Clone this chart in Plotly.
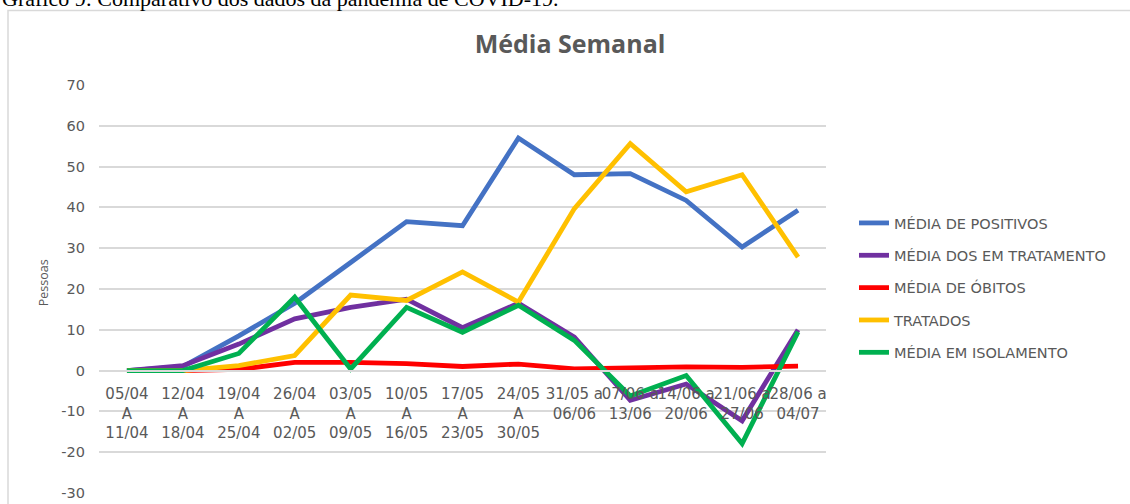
import plotly.graph_objects as go

categories = ["05/04<br>A<br>11/04", "12/04<br>A<br>18/04", "19/04<br>A<br>25/04",
              "26/04<br>A<br>02/05", "03/05<br>A<br>09/05", "10/05<br>A<br>16/05",
              "17/05<br>A<br>23/05", "24/05<br>A<br>30/05", "31/05 a<br>06/06",
              "07/06 a<br>13/06", "14/06 a<br>20/06", "21/06 a<br>27/06", "28/06 a<br>04/07"]

positivos = [0, 1, 8.5, 16.5, 26.5, 36.5, 35.5, 57, 48, 48.3, 41.7, 30.3, 39.3]
tratamento = [0, 1.2, 6.5, 12.7, 15.5, 17.5, 10.5, 16.5, 8.2, -7.3, -3.3, -12.3, 10]
obitos = [0, 0, 0.3, 2, 2, 1.7, 1, 1.6, 0.4, 0.6, 0.9, 0.8, 1.1]
tratados = [0, 0, 1.2, 3.7, 18.5, 17.2, 24.2, 16.8, 39.7, 55.6, 43.8, 48, 27.8]
isolamento = [0, 0, 4.2, 18, 0.4, 15.5, 9.4, 16, 7.4, -6.2, -1.2, -17.9, 9.5]

y_ticks = [-30, -20, -10, 0, 10, 20, 30, 40, 50, 60, 70]
y_ticktext = ["-30", "-20", "-10", "0", "10", "20", "30", "40", "50", "60", "70"]

series = [
    ("MÉDIA DE POSITIVOS", positivos, "#4472C4"),
    ("MÉDIA DOS EM TRATAMENTO", tratamento, "#7030A0"),
    ("MÉDIA DE ÓBITOS", obitos, "#FF0000"),
    ("TRATADOS", tratados, "#FFC000"),
    ("MÉDIA EM ISOLAMENTO", isolamento, "#00B050"),
]

W, H = 1130, 504
L, R, T, B = 99, 826, 85, 493

def px(x):
    return (x - L) / (R - L)

def py(y):
    return (B - y) / (B - T)

fig = go.Figure()
for i, (name, vals, color) in enumerate(series):
    fig.add_trace(go.Scatter(
        x=categories, y=vals, name=name, mode="lines",
        line=dict(color=color, width=4.8),
        legendgroup=f"g{i}",
    ))

gray = "#595959"
fig.update_layout(
    width=W, height=H,
    margin=dict(l=L, r=W - R, t=T, b=H - B, autoexpand=False),
    paper_bgcolor="white", plot_bgcolor="white",
    font=dict(family="DejaVu Sans", size=14.5, color=gray),
    title=dict(text="<b>Média Semanal</b>", x=570 / W, y=1 - 44 / H,
               xanchor="center", yanchor="middle",
               font=dict(family="Open Sans", size=25, color=gray)),
    xaxis=dict(type="category", anchor="free", position=0.3, range=[-0.5, 12.5],
               showgrid=False, showline=True, linecolor="#D9D9D9", linewidth=1.5,
               tickangle=0, ticks="", ticklabelstandoff=10,
               tickfont=dict(family="DejaVu Sans", size=15, color=gray),
               fixedrange=True),
    yaxis=dict(range=[-30, 70], tickmode="array", tickvals=y_ticks, ticktext=y_ticktext,
               showgrid=True, gridcolor="#D9D9D9", gridwidth=1.5,
               zeroline=False, showline=False, ticks="", ticklabelstandoff=13,
               tickfont=dict(family="DejaVu Sans", size=14.5, color=gray)),
    legend=dict(x=px(854), y=py(207), xanchor="left", yanchor="top",
                traceorder="grouped", tracegroupgap=10.5,
                font=dict(family="DejaVu Sans", size=14.5, color=gray),
                bgcolor="rgba(0,0,0,0)"),
    showlegend=True,
)

# chart frame
fig.add_shape(type="rect", xref="paper", yref="paper",
              x0=px(8), x1=px(1145), y0=py(530), y1=py(10.5),
              line=dict(color="#D9D9D9", width=1.5), layer="below")

# caption (partially cut at top)
fig.add_annotation(text="Gráfico 9: Comparativo dos dados da pandemia de COVID-19.",
                   xref="paper", yref="paper", x=px(0), y=py(13),
                   xanchor="left", yanchor="bottom", showarrow=False,
                   font=dict(family="Liberation Serif", size=22, color="black"))

# y axis title
fig.add_annotation(text="Pessoas", xref="paper", yref="paper",
                   x=px(43.7), y=py(282.5), xanchor="center", yanchor="middle",
                   textangle=-90, showarrow=False,
                   font=dict(family="Open Sans", size=12.5, color=gray))

fig.write_html("out.html", config={"displayModeBar": False},
               post_script="document.body.style.margin='0px';")
